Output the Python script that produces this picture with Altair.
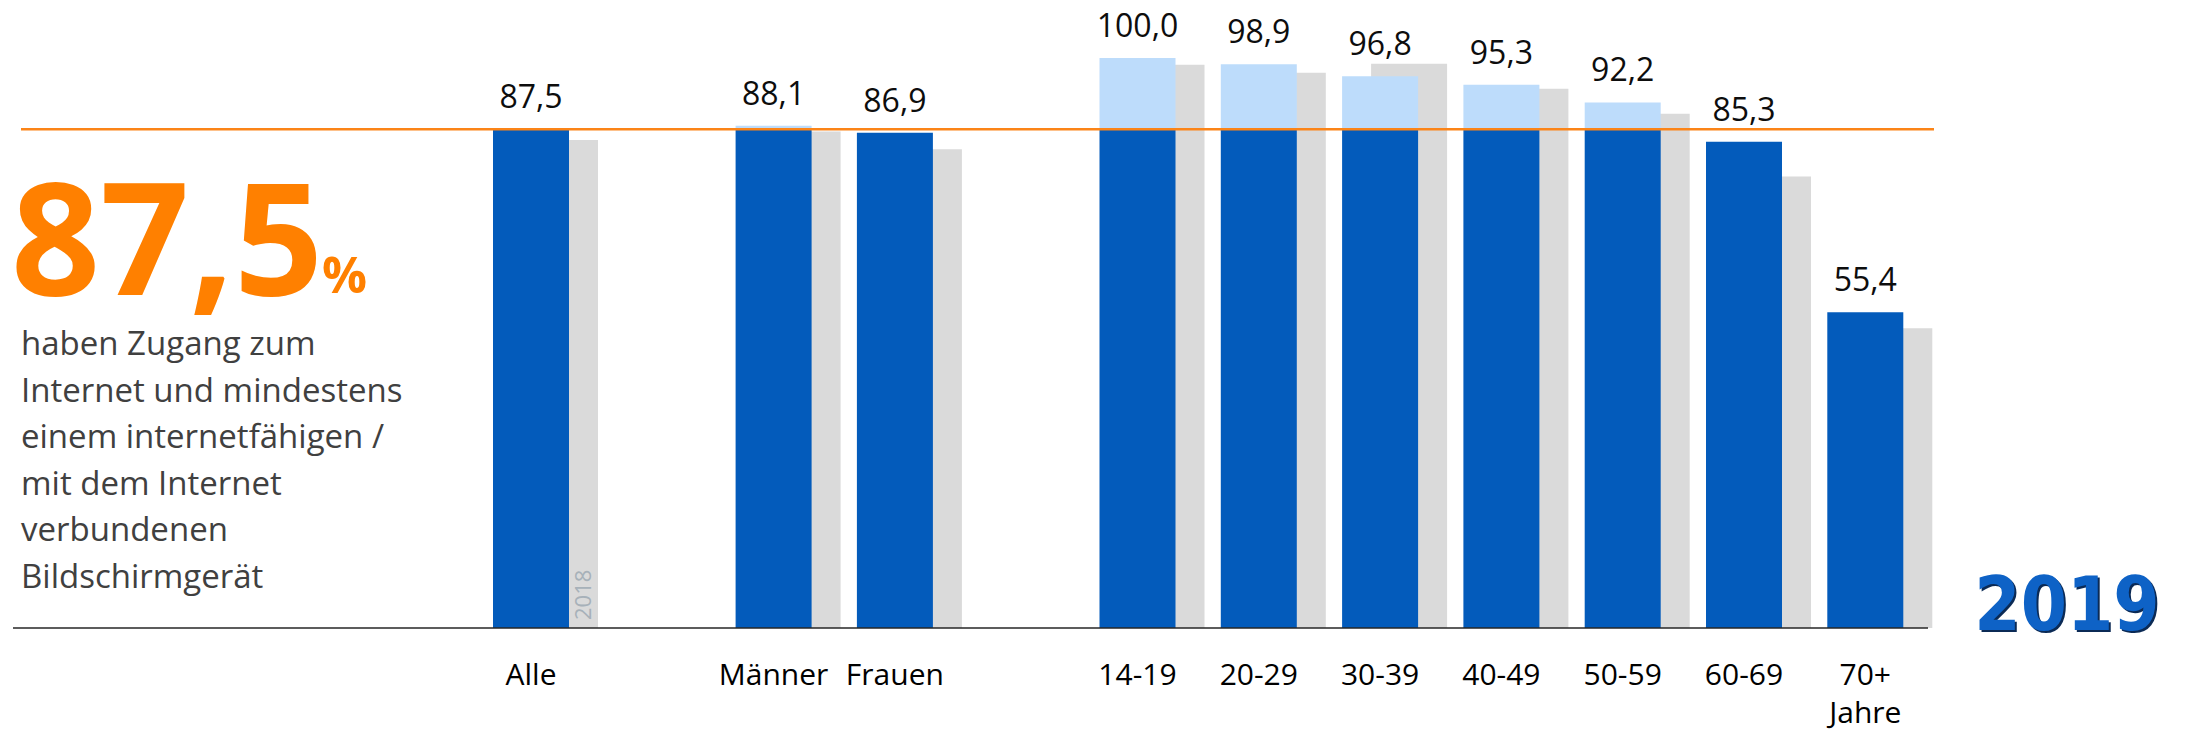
import altair as alt
import pandas as pd

# ---- data ----
categories = ["Alle", "Männer", "Frauen", "14-19", "20-29", "30-39", "40-49", "50-59", "60-69", "70+"]
axis_labels = ["Alle", "Männer", "Frauen", "14-19", "20-29", "30-39", "40-49", "50-59", "60-69", "70+\nJahre"]
values_2019 = [87.5, 88.1, 86.9, 100.0, 98.9, 96.8, 95.3, 92.2, 85.3, 55.4]
values_2018 = [85.6, 87.1, 84.0, 98.8, 97.4, 99.0, 94.6, 90.2, 79.2, 52.6]
# category slots incl. two empty spacer slots between the groups
slot_order = ["Alle", " ", "Männer", "Frauen", "  ", "14-19", "20-29", "30-39", "40-49", "50-59", "60-69", "70+"]

headline_suffix = "%"
description = ("haben Zugang zum\nInternet und mindestens\neinem internetfähigen /\n"
               "mit dem Internet\nverbundenen\nBildschirmgerät")
prev_year_label = "2018"
year_label = "2019"

reference = values_2019[0]  # "Alle" value, drawn as orange line


def de(v):
    return f"{v:.1f}".replace(".", ",")


df = pd.DataFrame({
    "cat": categories,
    "axis_label": axis_labels,
    "v2019": values_2019,
    "v2018": values_2018,
    "label": [de(v) for v in values_2019],
})
df["dark_top"] = df["v2019"].clip(upper=reference)
df["ref"] = reference
df["zero"] = 0.0

FONT = "Open Sans"
DARK = "#035bbb"
LIGHT = "#bddcfb"
GREY = "#dadada"
ORANGE = "#ff8000"

x_scale = alt.Scale(domain=slot_order, range=[462.35, 1917.95], paddingInner=0, paddingOuter=0)
y_scale = alt.Scale(domain=[0, 100], range=[620, 50], nice=False, zero=False)
X = alt.X("cat:N", scale=x_scale, axis=None)


def Y(field):
    return alt.Y(field, scale=y_scale, axis=None)


base = alt.Chart(df)

grey = base.mark_bar(size=76, xOffset=29, color=GREY).encode(x=X, y=Y("v2018:Q"), y2="zero:Q")
dark = base.mark_bar(size=76, color=DARK).encode(x=X, y=Y("dark_top:Q"), y2="zero:Q")
light = base.transform_filter("datum.v2019 > datum.ref").mark_bar(size=76, color=LIGHT).encode(
    x=X, y=Y("v2019:Q"), y2="ref:Q")

value_labels = base.mark_text(dy=-21, baseline="alphabetic", fontSize=32, font=FONT, color="#0d0d0d").encode(
    x=X, y=Y("v2019:Q"), text="label:N")

cat_labels = base.mark_text(dy=57, baseline="alphabetic", lineBreak="\n", lineHeight=38,
                            fontSize=30, font=FONT, color="#000000").encode(
    x=X, y=Y("zero:Q"), text="axis_label:N")

one = pd.DataFrame({"ref": [reference], "zero": [0.0], "cat": ["Alle"], "prev": [prev_year_label],
                    "big": [de(reference)], "pct": [headline_suffix], "desc": [description],
                    "year": [year_label]})
b1 = alt.Chart(one)

baseline = b1.mark_rule(color="#262626", strokeWidth=1.5).encode(
    y=Y("zero:Q"), x=alt.value(5), x2=alt.value(1920))
orange = b1.mark_rule(color="#fb8418", strokeWidth=2.5).encode(
    y=Y("ref:Q"), x=alt.value(13), x2=alt.value(1926))

prev_lbl = b1.mark_text(angle=270, align="left", baseline="middle", xOffset=52.5, yOffset=-8,
                        fontSize=22, font=FONT, color="#a7b1b9").encode(
    x=X, y=Y("zero:Q"), text="prev:N")

big = b1.mark_text(align="left", baseline="alphabetic", fontSize=156, fontWeight="bold",
                   font=FONT, color=ORANGE).encode(x=alt.value(3), y=alt.value(287), text="big:N")
pct = b1.mark_text(align="left", baseline="alphabetic", fontSize=50, fontWeight="bold",
                   font=FONT, color=ORANGE).encode(x=alt.value(314), y=alt.value(285), text="pct:N")
desc = b1.mark_text(align="left", baseline="alphabetic", fontSize=33, lineBreak="\n", lineHeight=46.6,
                    font=FONT, color="#404040").encode(x=alt.value(13), y=alt.value(347), text="desc:N")

year_font = "'DejaVu Sans Condensed', 'DejaVu Sans'"
year_shadow = b1.mark_text(align="center", baseline="alphabetic", fontSize=74, fontWeight="bold",
                           font=year_font, color="#0b2a55").encode(
    x=alt.value(2061), y=alt.value(624), text="year:N")
year_main = b1.mark_text(align="center", baseline="alphabetic", fontSize=74, fontWeight="bold",
                         font=year_font, color="#0e62c6").encode(
    x=alt.value(2059), y=alt.value(622), text="year:N")

chart = alt.layer(
    grey, dark, light, baseline, orange, value_labels, cat_labels, prev_lbl,
    big, pct, desc, year_shadow, year_main
).properties(
    width=2169, height=721, padding=0,
    autosize=alt.AutoSizeParams(type="none"),
).configure_view(strokeWidth=0)

chart.save("out.html", embed_options={"renderer": "svg", "actions": False})
